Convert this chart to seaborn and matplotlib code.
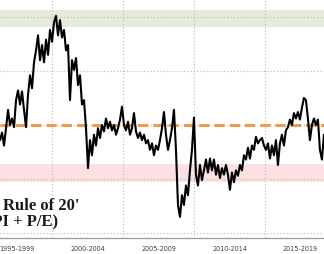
import numpy as np
import pandas as pd
import matplotlib
matplotlib.use("Agg")
import matplotlib.pyplot as plt
import seaborn as sns

# Rule of 20 (CPI + P/E)
values = [
    18.6, 19.3, 18.1, 19.7, 21.4, 20.0, 20.6, 19.8, 22.3, 23.2,
    21.9, 23.1, 21.4, 19.8, 22.8, 24.6, 23.4, 25.8, 26.9, 28.3,
    26.0, 27.4, 25.8, 27.9, 26.5, 28.8, 27.7, 29.5, 30.1, 28.3,
    29.7, 28.1, 28.8, 26.9, 27.4, 22.3, 26.0, 25.1, 26.2, 23.7,
    24.6, 21.9, 22.3, 19.7, 16.0, 18.6, 17.2, 19.1, 18.1, 19.7,
    18.8, 20.0, 19.4, 20.6, 19.7, 20.3, 19.5, 20.0, 19.1, 19.7,
    20.5, 21.7, 20.0, 19.5, 20.3, 19.1, 19.7, 21.1, 19.4, 18.8,
    19.3, 18.6, 19.1, 18.3, 18.6, 17.7, 18.3, 17.2, 18.1, 17.7,
    18.6, 19.7, 21.2, 19.1, 17.7, 18.6, 19.7, 21.4, 17.7, 12.6,
    11.5, 13.5, 12.6, 14.4, 13.5, 15.8, 17.7, 20.7, 15.4, 14.4,
    16.3, 14.9, 15.8, 16.8, 15.6, 16.9, 15.8, 16.8, 15.4, 16.3,
    15.1, 16.0, 15.4, 16.3, 15.4, 14.0, 15.6, 14.7, 15.8, 15.3,
    16.3, 15.8, 17.2, 16.8, 17.9, 16.9, 18.1, 17.7, 18.9, 18.3,
    18.6, 18.8, 18.1, 17.7, 18.3, 16.9, 18.1, 17.2, 18.6, 16.3,
    18.3, 19.1, 18.1, 19.5, 19.8, 20.5, 20.0, 21.1, 20.6, 21.2,
    20.5, 21.6, 22.5, 22.3, 20.6, 18.6, 20.0, 20.6, 20.0, 20.5,
    17.7, 16.8, 19.1,
]
start_year, end_year = 1996.34, 2019.15
years = np.linspace(start_year, end_year, len(values))

fair_value = 20
green_band = (29.07, 30.6)
red_band = (14.7, 16.4)
y_grid = [10, 15, 20, 25, 30]
major_years = [2000, 2005, 2010, 2015]
period_labels = ["1995-1999", "2000-2004", "2005-2009", "2010-2014", "2015-2019"]
period_centers = [1997.5, 2002.5, 2007.5, 2012.5, 2017.5]

df = pd.DataFrame({"year": years, "rule20": values})

sns.set_style("white")
fig = plt.figure(figsize=(3.24, 2.54), dpi=100)
ax = fig.add_axes([0, 16 / 254, 1, 238 / 254])

ax.axhspan(*green_band, color="#e4eddb", zorder=0, lw=0)
ax.axhspan(*red_band, color="#fbe1e1", zorder=0, lw=0)

for g in y_grid:
    ax.axhline(g, color="#b8b8b8", lw=0.8, ls=(0, (1, 2)), zorder=1)
for m in major_years:
    ax.axvline(m, color="#b8b8b8", lw=0.8, ls=(0, (1, 2)), zorder=1)

ax.axhline(fair_value, color="#ef9d4c", lw=2.2, ls=(0, (3.4, 1.6)), zorder=3)

sns.lineplot(data=df, x="year", y="rule20", color="black", lw=1.5, ax=ax, zorder=4)

ax.set_xlim(1996.338, 2019.155)
ax.set_ylim(9.54, 31.57)
ax.set_xlabel("")
ax.set_ylabel("")
ax.set_yticks([])
for s in ["top", "left", "right"]:
    ax.spines[s].set_visible(False)
ax.spines["bottom"].set_color("#9a9a9a")
ax.spines["bottom"].set_linewidth(0.9)

ax.set_xticks(major_years)
ax.set_xticklabels([])
ax.set_xticks(np.arange(1997, 2020), minor=True)
ax.tick_params(axis="x", which="major", direction="out", length=12, width=0.9, color="#9a9a9a")
ax.tick_params(axis="x", which="minor", direction="in", length=2.5, width=0.7, color="#9a9a9a")

for lab, c in zip(period_labels, period_centers):
    ax.text(c, -0.048, lab, transform=ax.get_xaxis_transform(), ha="center", va="center",
            fontsize=4.7, color="#404040", family="DejaVu Sans")

fig.text(3 / 324, (254 - 210) / 254, "Rule of 20'", fontsize=12, fontweight="bold",
         family="Liberation Serif", color="#1a1a1a", va="baseline", ha="left",
         bbox=dict(facecolor="white", edgecolor="none", pad=2), zorder=5)
fig.text(58 / 324, (254 - 226) / 254, "(CPI + P/E)", fontsize=12, fontweight="bold",
         family="Liberation Serif", color="#1a1a1a", va="baseline", ha="right", zorder=5)

fig.savefig("out.png", dpi=100)
